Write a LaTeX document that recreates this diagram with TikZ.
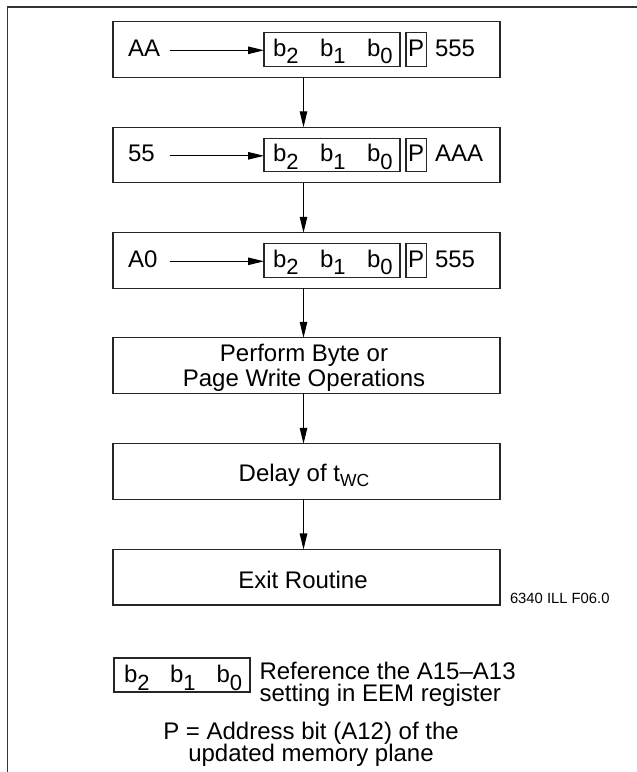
\documentclass[tikz,border=0pt]{standalone}
\usepackage{fontspec}
\setmainfont{Liberation Sans}
\usetikzlibrary{arrows.meta}
\newcommand\bsb[1]{b\raisebox{-7.6pt}{\fontsize{22}{22}\selectfont #1}}
\tikzset{
  every node/.style={font=\fontsize{24}{28}\selectfont, inner sep=0pt, outer sep=0pt},
  stepbox/.style={draw=black!85, line width=1.4pt, minimum width=387pt, minimum height=55.5pt},
  regbox/.style={draw=black!85, line width=1.2pt, minimum width=136pt, minimum height=33.5pt},
  pbox/.style={draw=black!85, line width=1.2pt, minimum width=20.5pt, minimum height=33.5pt},
  txt/.style={anchor=base west},
  ctxt/.style={anchor=base},
  arr/.style={-{Triangle[length=16pt,width=7.5pt]}, line width=1.1pt},
  frame/.style={line width=1.8pt, draw=black!80}
}
\begin{document}
\begin{tikzpicture}[x=1pt,y=-1pt]
\useasboundingbox (0,0) rectangle (637,772);
% outer frame (cut by the page edges)
\coordinate (f1) at (7.5,772);
\coordinate (f2) at (7.5,7);
\coordinate (f3) at (637,7);
\draw[frame] (f1) -- (f2) -- (f3);

% register rows
\foreach \i/\cy/\lt/\rt in {1/49.5/AA/555, 2/155/55/AAA, 3/260.5/A0/555} {
  \node[stepbox] (s\i) at (306.5,\cy) {};
  \node[regbox] (r\i) at (332,\cy) {};
  \node[pbox] (p\i) at (416.25,\cy) {};
  \node[ctxt] (pt\i) at (416.25,\cy+6.9) {P};
  \node[txt] (l\i) at (128,\cy+6.7) {\lt};
  \node[txt] (n\i) at (435,\cy+6.7) {\rt};
  \node[txt] (bb\i) at (273,\cy+6.7) {\bsb{2}};
  \node[txt] (bc\i) at (320,\cy+6.7) {\bsb{1}};
  \node[txt] (bd\i) at (367,\cy+6.7) {\bsb{0}};
  \coordinate (a\i) at (169.5,\cy+0.8);
  \draw[arr] (a\i) -- (a\i -| r\i.west);
}

% remaining steps
\node[stepbox] (s4) at (306.5,365.5) {};
\node[ctxt] (t4a) at (304,361.7) {Perform Byte or};
\node[ctxt] (t4b) at (304,386) {Page Write Operations};
\node[stepbox] (s5) at (306.5,471.5) {};
\node[ctxt] (t5) at (304,481.7) {Delay of t\raisebox{-4.5pt}{\fontsize{17.5}{17.5}\selectfont WC}};
\node[stepbox] (s6) at (306.5,577.2) {};
\node[ctxt] (t6) at (303,588.3) {Exit Routine};
\node[txt, font=\fontsize{14.8}{16}\selectfont] (code) at (510,603) {6340 ILL F06.0};

% vertical connectors
\foreach \a/\b in {1/2,2/3,3/4,4/5,5/6} {
  \draw[arr] ([xshift=-3pt]s\a.south) -- ([xshift=-3pt]s\b.north);
}

% legend
\node[regbox, minimum height=34pt] (lg) at (182,675) {};
\node[txt] (lb2) at (124,682.5) {\bsb{2}};
\node[txt] (lb1) at (170,682.5) {\bsb{1}};
\node[txt] (lb0) at (216.5,682.5) {\bsb{0}};
\node[txt] (lt1) at (259.5,679) {Reference the A15–A13};
\node[txt] (lt2) at (259.5,701.7) {setting in EEM register};
\node[ctxt] (lp1) at (311,739) {P = Address bit (A12) of the};
\node[ctxt] (lp2) at (311,761.7) {updated memory plane};
\end{tikzpicture}
\end{document}
